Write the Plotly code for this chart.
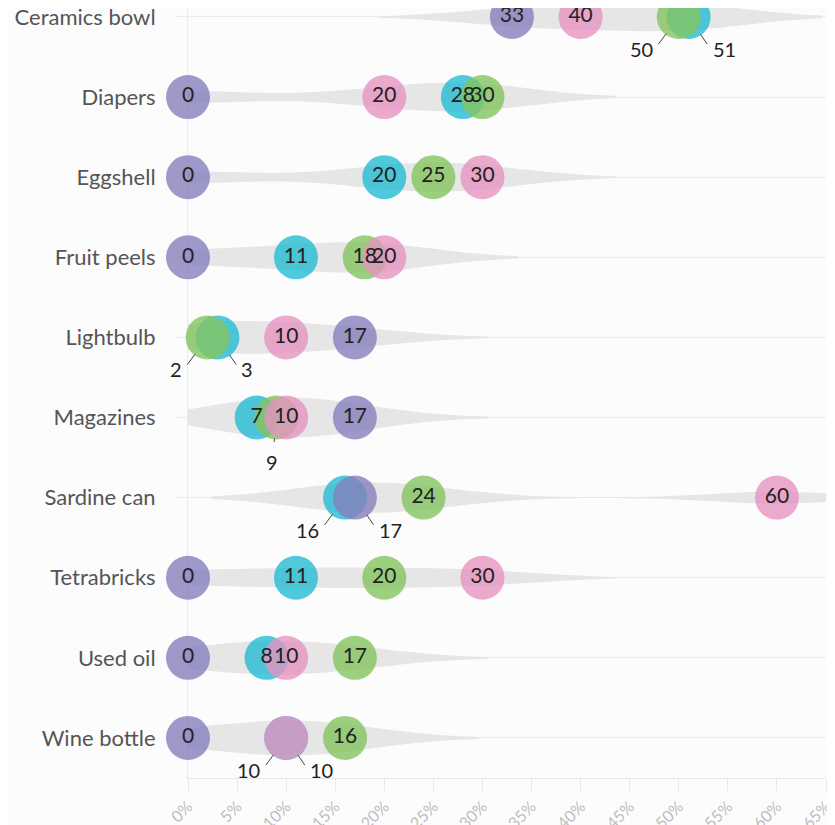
import plotly.graph_objects as go

# ---------------- data ----------------
categories = ["Ceramics bowl", "Diapers", "Eggshell", "Fruit peels", "Lightbulb",
              "Magazines", "Sardine can", "Tetrabricks", "Used oil", "Wine bottle"]
purple_vals = [33, 0, 0, 0, 17, 17, 17, 0, 0, 0]
pink_vals = [40, 20, 30, 20, 10, 10, 60, 30, 10, 10]
cyan_vals = [51, 28, 20, 11, 3, 7, 16, 11, 8, 10]
green_vals = [50, 30, 25, 18, 2, 9, 24, 20, 17, 16]
tick_values = list(range(0, 70, 5))
tick_labels = [f"{v}%" for v in tick_values]

series_names = ["Cyan", "Green", "Pink", "Purple"]
series_values = [cyan_vals, green_vals, pink_vals, purple_vals]
series_colors = ["rgba(36,187,212,0.8)", "rgba(133,196,94,0.8)",
                 "rgba(229,148,192,0.8)", "rgba(134,127,187,0.8)"]

# labels that sit outside their (overlapping) circle
outside_labels = {
    ("Ceramics bowl", "Green"): "left", ("Ceramics bowl", "Cyan"): "right",
    ("Lightbulb", "Green"): "left", ("Lightbulb", "Cyan"): "right",
    ("Magazines", "Green"): "below",
    ("Sardine can", "Cyan"): "left", ("Sardine can", "Purple"): "right",
    ("Wine bottle", "Cyan"): "left", ("Wine bottle", "Pink"): "right",
}

FONT = "Source Sans Pro, Lato, sans-serif"
fig = go.Figure()

# violin (density) of the four values per row
all_x, all_y = [], []
for vals in series_values:
    all_x += vals
    all_y += categories
fig.add_trace(go.Violin(
    x=all_x, y=all_y, orientation="h", points=False, width=0.5, bandwidth=6.8,
    fillcolor="#e6e6e6", line=dict(width=0, color="rgba(0,0,0,0)"),
    hoverinfo="skip", showlegend=False, spanmode="soft",
    box=dict(visible=False), meanline=dict(visible=False)))

# circles
for name, vals, col in zip(series_names, series_values, series_colors):
    fig.add_trace(go.Scatter(
        x=vals, y=categories, mode="markers", name=name, showlegend=False,
        marker=dict(size=44, color=col, line=dict(width=0)), cliponaxis=False))

# text inside circles (above all circles)
for name, vals in zip(series_names, series_values):
    txt = ["" if (c, name) in outside_labels else str(v) for c, v in zip(categories, vals)]
    fig.add_trace(go.Scatter(
        x=vals, y=categories, mode="text", text=txt, textposition="middle center",
        textfont=dict(family=FONT, size=21, color="#222"), showlegend=False,
        hoverinfo="skip", cliponaxis=False))

# outside labels with leader lines
place = {"left": dict(xanchor="right", ax=-24, ay=32),
         "right": dict(xanchor="left", ax=22, ay=32),
         "below": dict(xanchor="center", ax=-4, ay=44)}
for name, vals in zip(series_names, series_values):
    for c, v in zip(categories, vals):
        p = outside_labels.get((c, name))
        if p:
            fig.add_annotation(
                x=v, y=c, xref="x", yref="y", text=str(v), showarrow=True,
                arrowhead=0, arrowwidth=1, arrowcolor="#444", standoff=21,
                startstandoff=6, font=dict(family=FONT, size=20, color="#222"),
                yanchor="middle", **place[p])

fig.update_layout(
    width=835, height=825, margin=dict(l=180, r=17, t=0, b=55),
    paper_bgcolor="#fcfcfc", plot_bgcolor="#fcfcfc",
    font=dict(family=FONT), showlegend=False,
    xaxis=dict(range=[0, 65], tickvals=tick_values, ticktext=tick_labels,
               tickangle=-45, tickfont=dict(size=16, color="#bdbdbd"),
               showgrid=False, zeroline=False, ticks="outside", ticklen=12,
               tickcolor="#e8e8e8", showline=True, linecolor="#e8e8e8",
               automargin=False, layer="below traces"),
    yaxis=dict(type="category", categoryorder="array", categoryarray=categories,
               range=[9.5, -0.112], showgrid=True, gridcolor="#ebebeb",
               ticks="outside", ticklen=11, tickcolor="#ebebeb",
               showline=True, linecolor="#ebebeb", zeroline=False,
               tickfont=dict(size=22, color="#555"), ticklabelstandoff=16,
               automargin=False, layer="below traces"),
)

fig.write_html("out.html")
